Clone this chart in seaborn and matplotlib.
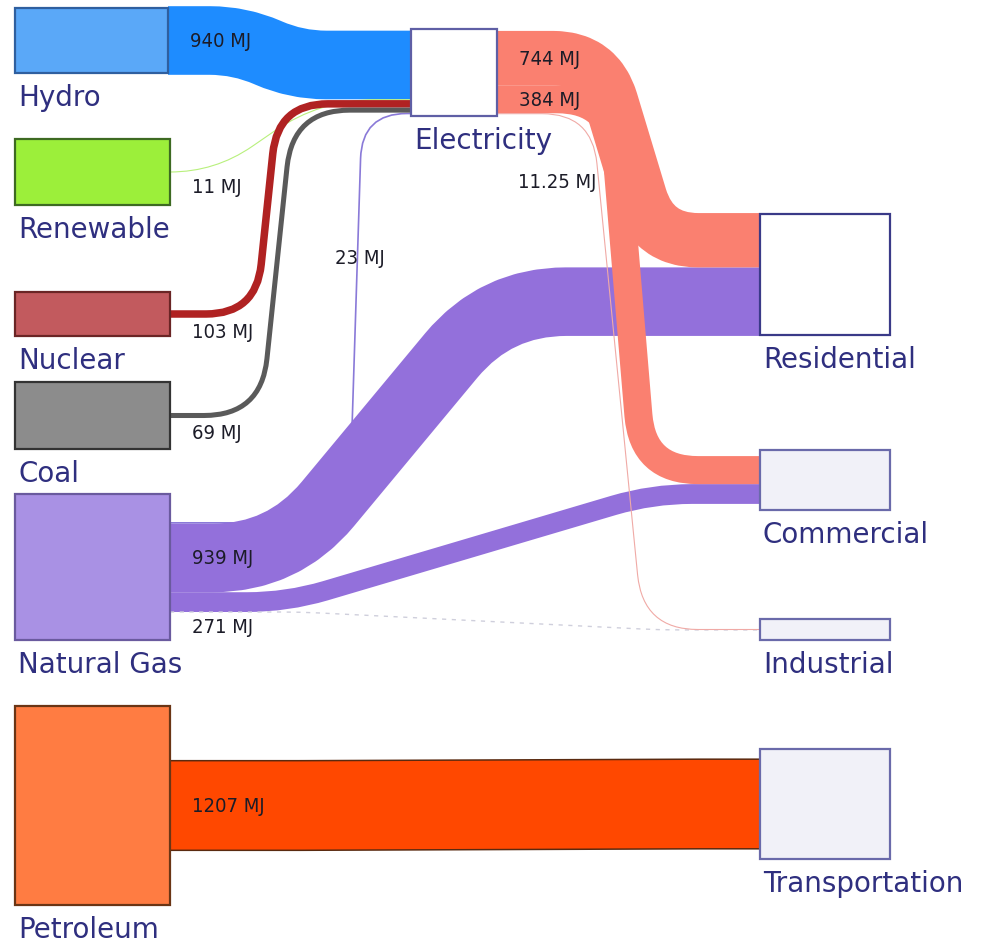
import numpy as np
import matplotlib
matplotlib.use("Agg")
import matplotlib.pyplot as plt
import seaborn as sns
from matplotlib.path import Path
from matplotlib.patches import PathPatch, Rectangle
import matplotlib.patheffects as pe

# energy flows (MJ)
sources = ["Hydro", "Renewable", "Nuclear", "Coal", "Natural Gas", "Natural Gas",
           "Natural Gas", "Natural Gas", "Electricity", "Electricity", "Electricity", "Petroleum"]
targets = ["Electricity", "Electricity", "Electricity", "Electricity", "Electricity", "Residential",
           "Commercial", "Industrial", "Residential", "Commercial", "Industrial", "Transportation"]
values = [940, 11, 103, 69, 23, 939, 271, 0, 744, 384, 11.25, 1207]
value_labels = ["940 MJ", "11 MJ", "103 MJ", "69 MJ", "23 MJ", "939 MJ", "271 MJ", "",
                "744 MJ", "384 MJ", "11.25 MJ", "1207 MJ"]

# layout (pixels): left, right, top, bottom
node_box = {
    "Hydro": (15, 168, 9, 74),
    "Renewable": (15, 170, 140, 206),
    "Nuclear": (15, 170, 293, 337),
    "Coal": (15, 170, 383, 450),
    "Natural Gas": (15, 170, 495, 641),
    "Petroleum": (15, 170, 707, 906),
    "Electricity": (411, 497, 30, 117),
    "Residential": (760, 890, 215, 336),
    "Commercial": (760, 890, 451, 511),
    "Industrial": (760, 890, 620, 641),
    "Transportation": (760, 890, 750, 860),
}
node_fill = {
    "Hydro": "#5aa8f8", "Renewable": "#9cef3a", "Nuclear": "#c25a5e", "Coal": "#8c8c8c",
    "Natural Gas": "#a991e4", "Petroleum": "#ff7c42", "Electricity": "#ffffff",
    "Residential": "#ffffff", "Commercial": "#f1f1f8", "Industrial": "#f1f1f8",
    "Transportation": "#f1f1f8",
}
node_edge = {
    "Hydro": "#2f5f9f", "Renewable": "#3d6a22", "Nuclear": "#6a2525", "Coal": "#333333",
    "Natural Gas": "#6a5a9e", "Petroleum": "#6a3515", "Electricity": "#5f5fa5",
    "Residential": "#3a3a88", "Commercial": "#6a6aaa", "Industrial": "#6a6aaa",
    "Transportation": "#6a6aaa",
}
link_color = {
    "Hydro": "#1e8cff", "Renewable": "#b8f07c", "Nuclear": "#b02222", "Coal": "#5a5a5a",
    "Natural Gas": "#9370db", "Electricity": "#fa8070", "Petroleum": "#ff4800",
}
thin_color = {"Electricity": "#f0aaa6", "Natural Gas": "#8a7ad8"}
# route of each link: x of first bend, x of second bend, corner radii
link_route = [(240, 296, 30, 30), (215, 320, 55, 55), (256, 278, 50, 50), (261, 293, 57, 57),
              (349, 362, 40, 45), (283, 496, 70, 70), (287, 652, 40, 40), (300, 660, 20, 20),
              (598, 653, 45, 45), (612, 643, 55, 55), (592, 643, 50, 55), (300, 700, 0, 0)]
link_z = [2, 2, 2, 2, 1, 2, 2, 2, 3, 3, 3, 2]
label_override = {"23 MJ": (335, 258), "11.25 MJ": (518, 183)}

px_per_mj = 0.073
dpi = 100
label_color = "#2f2f7f"

sns.set_theme(style="white")
plt.rcParams["font.family"] = ["DejaVu Sans"]

fig = plt.figure(figsize=(9.84, 9.45), dpi=dpi)
ax = fig.add_axes([0, 0, 1, 1])
ax.set_xlim(0, 984)
ax.set_ylim(945, 0)
ax.axis("off")


def center(name):
    b = node_box[name]
    return (b[2] + b[3]) / 2


def rounded_path(points, radii):
    pts = [np.array(p, dtype=float) for p in points]
    verts = [pts[0]]
    codes = [Path.MOVETO]
    for k in range(1, len(pts) - 1):
        a, p, b = pts[k - 1], pts[k], pts[k + 1]
        la, lb = np.linalg.norm(p - a), np.linalg.norm(b - p)
        if la == 0 or lb == 0:
            continue
        lim_a = la if k == 1 else la / 2
        lim_b = lb if k == len(pts) - 2 else lb / 2
        r = min(radii[k - 1], lim_a, lim_b)
        verts += [p - (p - a) / la * r, p, p + (b - p) / lb * r]
        codes += [Path.LINETO, Path.CURVE3, Path.CURVE3]
    verts.append(pts[-1])
    codes.append(Path.LINETO)
    return Path(verts, codes)


# stack links at each node, centred, ordered by the other node's position
n = len(values)
widths = [v * px_per_mj for v in values]
y_src = [0.0] * n
y_tgt = [0.0] * n
for name in node_box:
    outs = sorted([i for i in range(n) if sources[i] == name], key=lambda i: center(targets[i]))
    ins = sorted([i for i in range(n) if targets[i] == name], key=lambda i: center(sources[i]))
    for idx, store in ((outs, y_src), (ins, y_tgt)):
        if not idx:
            continue
        top = center(name) - sum(widths[i] for i in idx) / 2
        for i in idx:
            store[i] = top + widths[i] / 2
            top += widths[i]

for i in range(n):
    x0 = node_box[sources[i]][1]
    x1 = node_box[targets[i]][0]
    xa, xb, ra, rb = link_route[i]
    y0, y1 = y_src[i], y_tgt[i]
    path = rounded_path([(x0, y0), (xa, y0), (xb, y1), (x1, y1)], [ra, rb])
    col = link_color[sources[i]]
    if values[i] == 0:
        patch = PathPatch(path, facecolor="none", edgecolor="#cfcfdc",
                          lw=1.0, linestyle=(0, (3, 4)), zorder=link_z[i])
    else:
        lw = max(widths[i] * 72 / dpi, 0.8)
        if widths[i] < 2:
            col = thin_color.get(sources[i], col)
        patch = PathPatch(path, facecolor="none", edgecolor=col,
                          lw=lw, capstyle="butt", joinstyle="round", zorder=link_z[i])
        if sources[i] == "Petroleum":
            patch.set_path_effects([pe.Stroke(linewidth=lw + 2.2, foreground="#5a2a10",
                                              capstyle="butt"), pe.Normal()])
    ax.add_patch(patch)

    lab = value_labels[i]
    if lab:
        if lab in label_override:
            lx, ly = label_override[lab]
        else:
            lx = x0 + 22
            ly = y0 if widths[i] >= 20 else y0 + widths[i] / 2 + 14
        ax.text(lx, ly, lab, fontsize=14.5, color="#1c1c28", va="center", ha="left",
                fontstretch="condensed", zorder=6)

for name, (l, r, t, b) in node_box.items():
    ax.add_patch(Rectangle((l, t), r - l, b - t, facecolor=node_fill[name],
                           edgecolor=node_edge[name], lw=1.6, zorder=5))
    ax.text(l + 3, b + 10, name, fontsize=20, color=label_color, va="top", ha="left", zorder=6)

fig.savefig("out.png", dpi=dpi, facecolor="white")
